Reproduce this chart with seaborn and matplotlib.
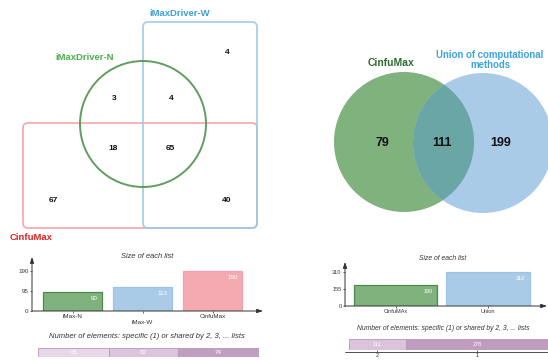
import matplotlib
matplotlib.use("Agg")
import matplotlib.pyplot as plt
from matplotlib.patches import Circle, FancyBboxPatch
import seaborn as sns

sns.set_style("white")
plt.rcParams["font.family"] = ["Liberation Sans", "DejaVu Sans"]

# ---- data ----
# three-list Venn regions (left panel)
venn3_labels = ["iMaxDriver-N", "iMaxDriver-W", "CinfuMax"]
venn3_region_names = ["W only", "N only", "N&W", "N&C", "N&W&C", "C only", "W&C"]
venn3_region_counts = [4, 3, 4, 18, 65, 67, 40]

# list sizes (left panel)
sizes3_names = ["iMax-N", "iMax-W", "CinfuMax"]
sizes3_values = [90, 113, 190]
sizes3_ticks = [0, 95, 190]

# specific / shared counts (left panel)
shared3_counts = [65, 62, 74]
shared3_nlists = ["3", "2", "1"]

# two-list Venn (right panel)
venn2_labels = ["CinfuMax", "Union of computational\nmethods"]
venn2_counts = [79, 111, 199]

sizes2_names = ["CinfuMAx", "Union"]
sizes2_values = [190, 310]
sizes2_ticks = [0, 155, 310]

shared2_counts = [111, 278]
shared2_nlists = ["2", "1"]

W, H = 548, 360
fig = plt.figure(figsize=(W / 100, H / 100), dpi=100)

# canvas in pixel units for the Venn shapes
bg = fig.add_axes([0, 0, 1, 1])
bg.set_xlim(0, W)
bg.set_ylim(H, 0)
bg.axis("off")


def px_axes(x0, y0, x1, y1):
    return fig.add_axes([x0 / W, 1 - y1 / H, (x1 - x0) / W, (y1 - y0) / H])


# ---- left Venn: circle + two rounded rectangles ----
blue_edge = "#9fc8e8"
red_edge = "#f2a3aa"
green_edge = "#5f9e5f"
bg.add_patch(FancyBboxPatch((23, 123), 234, 105, boxstyle="round,pad=0,rounding_size=5",
                            fill=False, ec=red_edge, lw=1.3, alpha=0.9))
bg.add_patch(FancyBboxPatch((143, 22), 114, 206, boxstyle="round,pad=0,rounding_size=5",
                            fill=False, ec=blue_edge, lw=1.3, alpha=0.9))
bg.add_patch(Circle((143, 124), 63, fill=False, ec=green_edge, lw=1.4))

bg.text(85, 57, venn3_labels[0], color="#4caf50", fontsize=6.8, fontweight="bold",
        ha="center", va="center")
bg.text(180, 14, venn3_labels[1], color="#39a0dc", fontsize=6.8, fontweight="bold",
        ha="center", va="center")
bg.text(31, 238, venn3_labels[2], color="#e0211f", fontsize=6.8, fontweight="bold",
        ha="center", va="center")

venn3_pos = [(227, 52), (114, 98), (171, 98), (113, 148), (170, 148), (53, 200), (227, 200)]
for (x, y), n in zip(venn3_pos, venn3_region_counts):
    bg.text(x, y, str(n), fontsize=6, fontweight="bold", ha="center", va="center", color="#111")

# ---- right Venn: two filled circles ----
g_circle = Circle((404, 142), 70, fc="#80b27e", ec="none")
b_circle = Circle((483, 143), 70, fc="#aacbe8", ec="none")
bg.add_patch(g_circle)
bg.add_patch(b_circle)
overlap = Circle((483, 143), 70, fc="#6ba6a6", ec="none")
bg.add_patch(overlap)
overlap.set_clip_path(g_circle)

bg.text(391, 63, venn2_labels[0], color="#2f6a30", fontsize=7.5, fontweight="bold",
        ha="center", va="center")
bg.text(490, 60, venn2_labels[1], color="#3aa5dd", fontsize=6.9, fontweight="bold",
        ha="center", va="center", linespacing=1.0)
for x, n in zip([382, 442, 501], venn2_counts):
    bg.text(x, 143, str(n), fontsize=9, fontweight="bold", ha="center", va="center", color="#111")

axis_col = "#333333"


def size_chart(ax, names, values, ticks, colors, edges, width, xlim, ylim_top, fs):
    sns.barplot(x=names, y=values, hue=names, palette=colors, width=width,
                legend=False, ax=ax, saturation=1)
    for p, ec in zip(ax.patches, edges):
        p.set_edgecolor(ec)
        p.set_linewidth(0.9)
    ax.set_xlim(*xlim)
    ax.set_ylim(0, ylim_top)
    ax.patch.set_alpha(0)
    for s in ax.spines.values():
        s.set_visible(False)
    ax.annotate("", xy=(0, 1), xytext=(0, 0), xycoords="axes fraction",
                arrowprops=dict(arrowstyle="-|>,head_width=0.12,head_length=0.35",
                                color=axis_col, lw=0.7, shrinkA=0, shrinkB=0))
    ax.annotate("", xy=(1, 0), xytext=(0, 0), xycoords="axes fraction",
                arrowprops=dict(arrowstyle="-|>,head_width=0.12,head_length=0.35",
                                color=axis_col, lw=0.7, shrinkA=0, shrinkB=0))
    ax.set_yticks(ticks)
    ax.set_yticklabels([str(t) for t in ticks])
    ax.tick_params(axis="both", labelsize=fs, length=1.5, width=0.5, colors=axis_col,
                   pad=1, left=True, bottom=True)
    ax.set_xlabel("")
    ax.set_ylabel("")
    for i, v in enumerate(values):
        ax.annotate(str(v), xy=(i + width / 2, v), xytext=(-3, -3), textcoords="offset points",
                    ha="right", va="top", fontsize=fs, color="white")


# left size chart
axL = px_axes(32, 257, 263, 311)
size_chart(axL, sizes3_names, sizes3_values, sizes3_ticks,
           ["#80b27e", "#aacbe8", "#f5aab1"], ["#4e8a4c", "#9cc2e4", "#f0a2aa"],
           0.843, (-0.579, 2.72), 54 / 0.2105, 4.5)
axL.set_xticks(range(len(sizes3_names)))
axL.set_xticklabels([sizes3_names[0], "\n" + sizes3_names[1], sizes3_names[2]], va="top")
bg.text(147, 256, "Size of each list", fontsize=5.4, style="italic", ha="center",
        va="center", color="#333")
bg.text(147, 337, "Number of elements: specific (1) or shared by 2, 3, ... lists",
        fontsize=5.5, style="italic", ha="center", va="center", color="#333")

# right size chart
axR = px_axes(345, 262, 547, 306)
size_chart(axR, sizes2_names, sizes2_values, sizes2_ticks,
           ["#80b27e", "#aacbe8"], ["#4e8a4c", "#9cc2e4"],
           0.9, (-0.546, 1.638), 44 / 0.11, 4)
bg.text(443, 258, "Size of each list", fontsize=4.9, style="italic", ha="center",
        va="center", color="#333")
bg.text(443, 329, "Number of elements: specific (1) or shared by 2, 3, ... lists",
        fontsize=4.9, style="italic", ha="center", va="center", color="#333")


def shared_bar(ax, counts, colors, nlists, show_axis, fs):
    left = 0
    centers = []
    for c, col in zip(counts, colors):
        ax.barh(0, c, left=left, height=1, color=col, edgecolor="#b898b8", linewidth=0.6)
        ax.text(left + c / 2, 0, str(c), fontsize=fs, color="white", ha="center", va="center")
        centers.append(left + c / 2)
        left += c
    ax.set_xlim(0, left)
    ax.set_ylim(-0.5, 0.5)
    ax.patch.set_alpha(0)
    for s in ax.spines.values():
        s.set_visible(False)
    ax.set_yticks([])
    if show_axis:
        ax.set_xticks(centers)
        ax.set_xticklabels(nlists)
        ax.tick_params(axis="x", labelsize=fs, length=1.5, width=0.5, colors=axis_col,
                       pad=0.5, bottom=True)
    else:
        ax.set_xticks([])


axS3 = px_axes(38, 348, 259, 357)
shared_bar(axS3, shared3_counts, ["#e8d7e8", "#dcc5dc", "#c29fc2"], shared3_nlists, False, 4.5)

axS2 = px_axes(349, 339, 548, 350)
shared_bar(axS2, shared2_counts, ["#dcc3dc", "#c09dc0"], shared2_nlists, True, 4)
bg.plot([345, 548], [352, 352], color=axis_col, lw=0.6)

fig.savefig("out.png", dpi=100)
